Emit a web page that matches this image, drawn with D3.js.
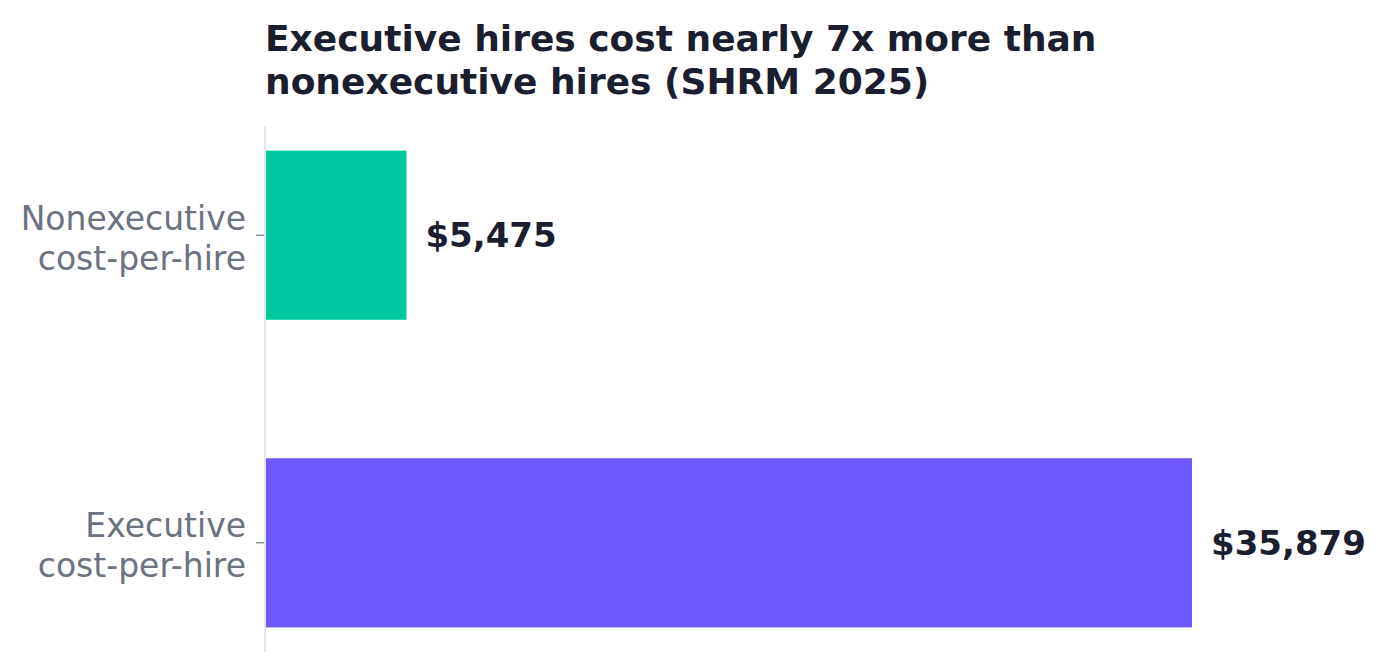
<!DOCTYPE html>
<html>
<head>
<meta charset="utf-8">
<script src="https://cdn.jsdelivr.net/npm/d3@7"></script>
<style>
  body { margin: 0; background: #fff; }
  svg, svg text { font-family: "DejaVu Sans", sans-serif; }
</style>
</head>
<body>
<svg id="chart"></svg>
<script>
const categories = ["Nonexecutive\ncost-per-hire", "Executive\ncost-per-hire"];
const values = [5475, 35879];
const colors = ["#00C9A1", "#6E58FF"];
const title = ["Executive hires cost nearly 7x more than", "nonexecutive hires (SHRM 2025)"];

const width = 1386, height = 671;
const margin = { top: 126, right: 194, bottom: 19, left: 265 };
const innerW = width - margin.left - margin.right;
const innerH = height - margin.top - margin.bottom;

const svg = d3.select("#chart")
  .attr("width", width)
  .attr("height", height);

// titulo
svg.append("text")
  .attr("x", margin.left)
  .attr("y", 51)
  .attr("font-size", 36)
  .attr("font-weight", "bold")
  .attr("fill", "#1b1e2e")
  .selectAll("tspan")
  .data(title)
  .join("tspan")
  .attr("x", margin.left)
  .attr("dy", (d, i) => i === 0 ? 0 : 43)
  .text(d => d);

const g = svg.append("g")
  .attr("transform", "translate(" + margin.left + "," + margin.top + ")");

const x = d3.scaleLinear()
  .domain([0, 35879])
  .range([0, 927]);

const y = d3.scaleBand()
  .domain(categories)
  .range([0, innerH])
  .paddingInner(0.45)
  .paddingOuter(0.08);

// barras
g.selectAll(".bar")
  .data(values)
  .join("rect")
  .attr("class", "bar")
  .attr("x", 0)
  .attr("y", (d, i) => y(categories[i]))
  .attr("width", d => x(d))
  .attr("height", y.bandwidth())
  .attr("fill", (d, i) => colors[i]);

// eje y
const yAxis = g.append("g")
  .call(d3.axisLeft(y).tickSize(9).tickPadding(10))
  .attr("font-family", "DejaVu Sans");
yAxis.select(".domain").remove();
yAxis.selectAll(".tick line").attr("stroke", "#6b7280").attr("stroke-width", 1.2);
yAxis.selectAll(".tick text").remove();
yAxis.selectAll(".tick").each(function(d) {
  const lines = d.split("\n");
  d3.select(this).append("text")
    .attr("x", -19)
    .attr("text-anchor", "end")
    .attr("fill", "#6b7280")
    .attr("font-size", 33)
    .selectAll("tspan")
    .data(lines)
    .join("tspan")
    .attr("x", -19)
    .attr("y", (l, i) => (i - (lines.length - 1) / 2) * 40 + 14.5)
    .text(l => l);
});

g.append("line")
  .attr("x1", 0).attr("x2", 0)
  .attr("y1", 0).attr("y2", innerH)
  .attr("stroke", "#e4e4f3")
  .attr("stroke-width", 2);

// etiquetas de valor
g.selectAll(".label")
  .data(values)
  .join("text")
  .attr("class", "label")
  .attr("x", d => x(d) + 19)
  .attr("y", (d, i) => y(categories[i]) + y.bandwidth() / 2)
  .attr("dy", "0.36em")
  .attr("font-size", 34)
  .attr("font-weight", "bold")
  .attr("fill", "#1b1e2e")
  .text(d => "$" + d3.format(",")(d));
</script>
</body>
</html>
